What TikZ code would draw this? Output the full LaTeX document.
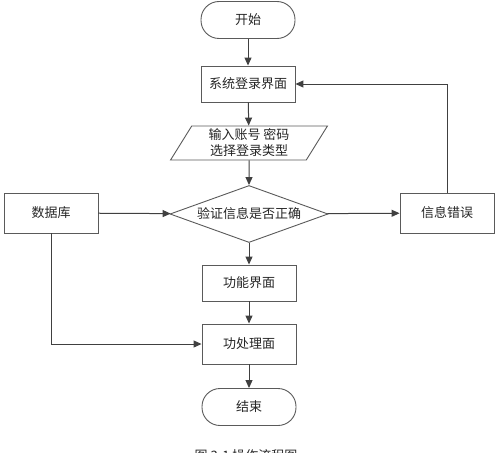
\documentclass[tikz,border=0pt]{standalone}
\usepackage{fontspec}
\setmainfont{Noto Sans CJK SC}
\usetikzlibrary{shapes.geometric,arrows.meta,positioning}
\definecolor{linegray}{HTML}{404040}
\definecolor{boxgray}{HTML}{5A5A5A}
\tikzset{box node/.style={rectangle,draw=boxgray,fill=white,line width=0.9pt,minimum width=94pt,minimum height=36pt,inner sep=0pt,font=\fontsize{13}{15}\selectfont,text=black!85},
         term node/.style={box node,rounded corners=18pt,minimum height=37pt},
         io node/.style={box node,trapezium,trapezium left angle=62,trapezium right angle=118,trapezium stretches=true,minimum width=157pt,minimum height=34pt,align=center,font=\fontsize{13}{16}\selectfont},
         test node/.style={box node,diamond,aspect=2.77,minimum width=158pt,minimum height=57pt},
         flow/.style={draw=linegray,line width=1pt,->}
}

\begin{document}
\begin{tikzpicture}[x=1pt,y=-1pt,>={Triangle[length=8pt,width=7pt]}]
    \useasboundingbox (0,0) rectangle (500,452);

    \node [term node] (start) at (248,20) {开始};
    \node [box node] (login) at (248,84) {系统登录界面};
    \node [io node] (input) at (249,143) {输入账号 密码\\选择登录类型};
    \node [test node] (check) at (249,214) {验证信息是否正确};
    \node [box node,minimum height=40pt] (db) at (51,213) {数据库};
    \node [box node,minimum height=40pt] (error) at (447,213) {信息错误};
    \node [box node] (menu) at (249,283) {功能界面};
    \node [box node,minimum height=40pt] (proc) at (249,344) {功处理面};
    \node [term node] (stop) at (249,407) {结束};

    \draw [flow] (start) -- (login);
    \draw [flow] (login) -- (input);
    \draw [flow] (input) -- (check);
    \draw [flow] (db) -- (check);
    \draw [flow] (check) -- (error);
    \draw [flow] (check) -- (menu);
    \draw [flow] (menu) -- (proc);
    \draw [flow] (proc) -- (stop);
    \draw [flow] (db.south) |- (proc.west);
    \draw [flow] (error.north) |- (login.east);

    % caption, cut by the page edge
    \node [font=\fontsize{13}{15}\selectfont,text=black!85,anchor=north] (caption) at (246,446) {图 3-1 操作流程图};
\end{tikzpicture}
\end{document}
